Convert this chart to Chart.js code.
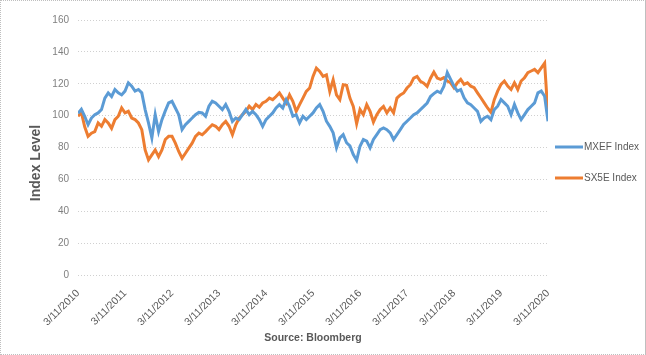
<!DOCTYPE html>
<html><head><meta charset="utf-8">
<script src="https://cdn.jsdelivr.net/npm/chart.js@4/dist/chart.umd.min.js"></script>
<style>
html,body{margin:0;padding:0;background:#fff}
#wrap{position:relative;width:646px;height:355px;box-sizing:border-box;border:1px dotted #BFBFBF;border-right:1px solid #BFBFBF}
canvas{display:block}
</style></head><body>
<div id="wrap"><canvas id="c" width="644" height="353"></canvas></div>
<script>
// Tick labels (one per year, 3/11/2010 .. 3/11/2020)
const tickLabels = ['3/11/2010','3/11/2011','3/11/2012','3/11/2013','3/11/2014','3/11/2015','3/11/2016','3/11/2017','3/11/2018','3/11/2019','3/11/2020'];
const samplesPerYear = 14; // readings taken ~every 1/14 year
const seriesNames = ['MXEF Index', 'SX5E Index'];
// MXEF Index (blue)
const mxef = [101.5,104,99.6,94.3,98.5,100.6,101.7,103.8,111,114.3,112,116.4,114.3,113,115.4,120.6,118.5,115.4,116.4,114.3,
103.8,95.4,86,100.6,90,97.5,103,108,109,104.8,100.6,91.2,94.3,96.4,98.5,100.6,102,101.7,99.6,105.9,
109,108,105.9,103.8,107,102.7,96.4,98.5,97.5,100.6,103.8,100.6,102.7,100.6,97.5,93.3,97.5,99.6,101.7,104.8,
106.9,104.8,110,105.8,99.6,100.6,95.4,99.6,97.5,99.6,101.7,104.8,106.9,102.7,96.5,93.3,89.2,79.8,86,88.1,
83,81,75.6,72,80.8,85,84,79.8,85,88.1,91.2,92.3,91.2,89.2,85,88.1,91.2,94.4,96.5,98.5,
100.6,101.7,103.8,105.8,107.9,112,113.8,115.3,114.3,118.5,127,122.7,118.5,115.4,116.4,111.2,108,106.9,104.8,102.7,
96.4,98.5,99.6,97.5,103.8,105.9,110.1,108,105.9,100.6,107,101.7,97.5,100.6,103.8,105.9,108,114.3,115.4,112.2,96.4];
// SX5E Index (orange)
const sx5e = [99.6,102,93,87,89,90,95.4,93.3,97.5,95.4,92,97.5,99.6,104.8,101.7,102.7,98.5,97.5,95.4,91.2,
78.5,72.2,75.4,78.5,74.3,78.5,85,87,87,82.7,77.5,73.3,76.4,79.6,82.7,87,89,88,90,92.2,
94.3,93.3,91.2,94.3,96.4,93.3,88,94.3,98.5,100.6,102.7,105.9,103.8,107,105.3,107.9,109,111,110,112,
114.2,111,107.9,113,109,102.7,106.9,111,115.2,117.3,124.6,129.8,127.7,124.6,125.6,115.2,122.5,113,110,119.4,
119,111,105.8,95,103.8,100.6,106.9,102.7,96,100.6,103.8,105.8,101.7,104.8,101.7,111,113,114.2,117.3,119.4,
123.5,124.6,121.5,120.4,118.3,123.5,127.3,123.6,122.7,123.8,121.7,120.6,117.5,120.6,122.7,119.6,120.6,118.5,117.5,114.3,
111.2,108,104.8,102,110,115.4,119.6,121.7,118.5,116.4,120.6,116.4,121.7,123.8,127,128,129,127,130,133,100];

const toPoints = arr => arr.map((v, i) => ({x: i / samplesPerYear, y: v}));
const blue = '#5B9BD5', orange = '#ED7D31', txt = '#595959';

const extras = {
  id: 'extras',
  afterDraw(chart) {
    const ctx = chart.ctx;
    ctx.save();
    // y-axis title
    ctx.fillStyle = txt;
    ctx.font = 'bold 14px "Liberation Sans", Arial, sans-serif';
    ctx.textAlign = 'center';
    ctx.textBaseline = 'middle';
    ctx.translate(35, 162);
    ctx.rotate(-Math.PI / 2);
    ctx.fillText('Index Level', 0, 0);
    ctx.restore();
    // legend
    ctx.save();
    const ys = [146, 177];
    chart.data.datasets.forEach((ds, i) => {
      ctx.strokeStyle = ds.borderColor;
      ctx.lineWidth = 3;
      ctx.beginPath();
      ctx.moveTo(554, ys[i]);
      ctx.lineTo(582, ys[i]);
      ctx.stroke();
      ctx.fillStyle = txt;
      ctx.font = '10px "Liberation Sans", Arial, sans-serif';
      ctx.textAlign = 'left';
      ctx.textBaseline = 'middle';
      ctx.fillText(ds.label, 583, ys[i]);
    });
    ctx.restore();
  }
};

new Chart(document.getElementById('c'), {
  type: 'line',
  data: {
    datasets: [
      {label: seriesNames[0], data: toPoints(mxef), borderColor: blue, backgroundColor: blue, borderWidth: 3, pointRadius: 0, tension: 0},
      {label: seriesNames[1], data: toPoints(sx5e), borderColor: orange, backgroundColor: orange, borderWidth: 3, pointRadius: 0, tension: 0}
    ]
  },
  options: {
    responsive: false,
    animation: false,
    events: [],
    layout: {padding: {left: 0, right: 97, top: 19, bottom: 10}},
    plugins: {legend: {display: false}, tooltip: {enabled: false}},
    scales: {
      x: {
        type: 'linear', min: 0, max: 10,
        grid: {display: false},
        border: {display: false},
        ticks: {
          stepSize: 1, autoSkip: false, maxRotation: 45, minRotation: 45, padding: 4,
          color: txt, font: {family: '"Liberation Sans", Arial, sans-serif', size: 10.5},
          callback: v => tickLabels[Math.round(v)]
        },
        title: {display: true, text: 'Source: Bloomberg', color: txt, padding: 0,
          font: {family: '"Liberation Sans", Arial, sans-serif', size: 10.5, weight: 'bold'}},
        afterFit: s => { s.height = 69; }
      },
      y: {
        min: 0, max: 160,
        grid: {color: '#D0D0D0', lineWidth: 1, drawTicks: false},
        border: {display: false, dash: [1, 2]},
        ticks: {stepSize: 20, padding: 9, color: '#7F7F7F', font: {family: '"Liberation Sans", Arial, sans-serif', size: 10}},
        afterFit: s => { s.width = 77; }
      }
    }
  },
  plugins: [extras]
});
</script>
</body></html>
